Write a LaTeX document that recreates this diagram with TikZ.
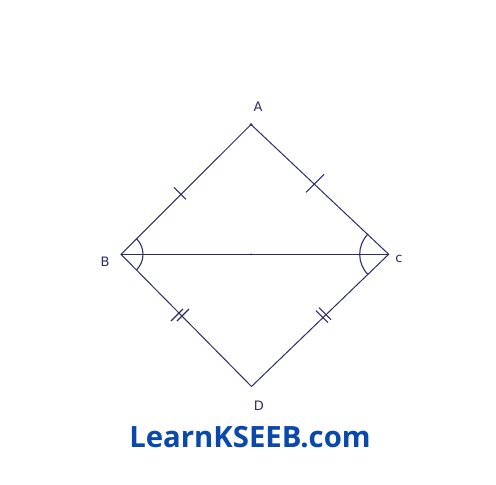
\documentclass[tikz,border=0pt]{standalone}
\usepackage{fontspec}
\usetikzlibrary{calc}
\newfontfamily\brand{Open Sans}
\newfontfamily\lbl{DejaVu Sans}
\definecolor{ink}{RGB}{45,45,100}
\definecolor{brandblue}{RGB}{10,72,170}
\begin{document}
\begin{tikzpicture}[x=1pt,y=-1pt,
  edge/.style={draw=ink,line width=1pt},
  tick/.style={draw=ink,line width=1.1pt},
  lab/.style={text=ink,font=\lbl\fontsize{13}{13}\selectfont,inner sep=0pt}]
\useasboundingbox[fill=white] (0,0) rectangle (496,485);
\coordinate (A) at (251,124.5);
\coordinate (B) at (121,254.3);
\coordinate (C) at (388.7,254.3);
\coordinate (D) at (251.5,386.5);
\coordinate (M) at (251,254.3);
\draw[edge] (A) -- (B) -- (D) -- (C) -- cycle;
\draw[edge] (B) -- (C);
\fill[ink] (A) circle (1.5);
\fill[ink] (M) circle (1);
% ticks
\coordinate (t1) at (180,193.3);
\coordinate (t2) at (315,183.3);
\coordinate (t3) at (180,315);
\coordinate (t4) at (325,316.7);
\draw[tick] ($(t1)+(-6,-6)$) -- ($(t1)+(6,6)$);
\draw[tick] ($(t2)+(-9,9)$) -- ($(t2)+(9,-9)$);
\draw[tick] ($(t3)+(-9,6)$) -- ($(t3)+(3,-6)$);
\draw[tick] ($(t3)+(-3,6)$) -- ($(t3)+(9,-6)$);
\draw[tick] ($(t4)+(-9,-6)$) -- ($(t4)+(3,6)$);
\draw[tick] ($(t4)+(-6,-9)$) -- ($(t4)+(6,3)$);
% angle arcs
\draw[tick] ($(B)+(45:22)$) arc[start angle=45,end angle=-45,radius=22];
\draw[tick] ($(C)+(135:29)$) arc[start angle=135,end angle=225,radius=29];
\node[lab] (la) at (258,107) {A};
\node[lab] (lb) at (105,262) {B};
\node[lab] (lc) at (399,259) {c};
\node[lab] (ld) at (259,406) {D};
\node[text=brandblue,font=\brand\bfseries\fontsize{29.3}{29.3}\selectfont,inner sep=0pt] (brand) at (250,437) {LearnKSEEB.com};
\end{tikzpicture}
\end{document}
